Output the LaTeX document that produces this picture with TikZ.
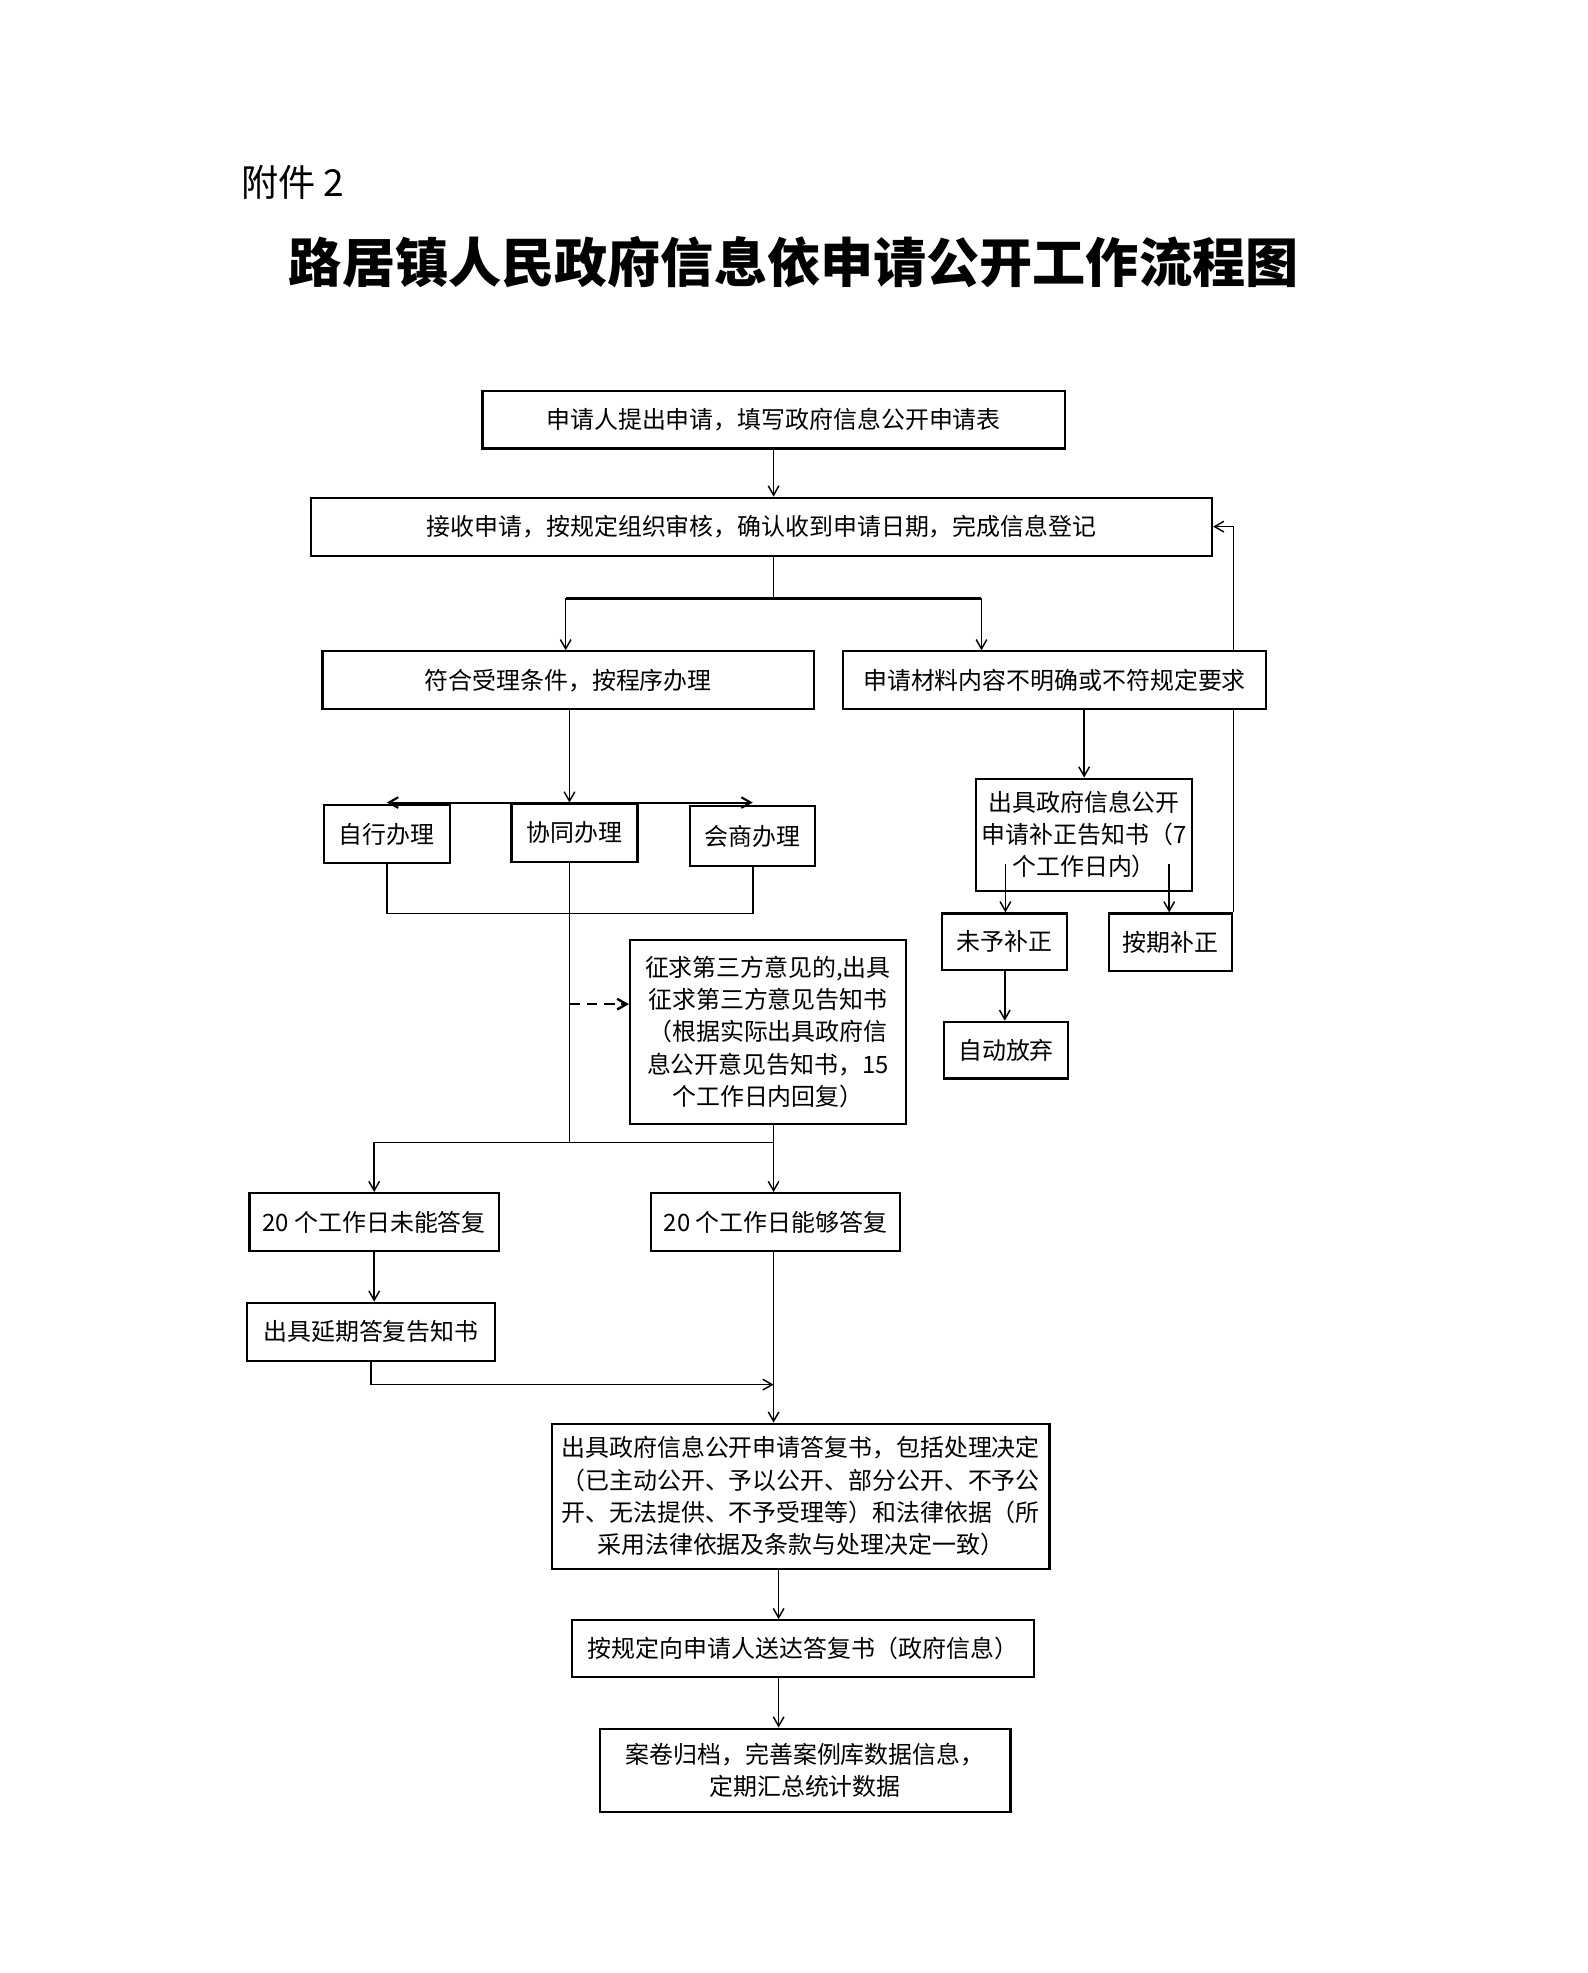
\documentclass[tikz,border=0pt]{standalone}
\usepackage{fontspec}
\setmainfont{Noto Sans CJK SC}
\usetikzlibrary{backgrounds}
\newcommand{\boxfont}{\fontsize{9pt}{12.1pt}\selectfont}
\tikzset{
  box/.style={draw, line width=0.8pt, fill=white, inner sep=0pt, align=center, font=\boxfont},
  sz/.style 2 args={minimum width={#1/60*1cm}, minimum height={#2/60*1cm}},
  line/.style={line width=0.55pt},
  arr/.style={line width=0.55pt, -{Straight Barb[length=3.5pt,width=4pt]}},
  dasharr/.style={line width=0.9pt, dash pattern=on 4pt off 2.5pt, -{Straight Barb[length=3.5pt,width=4pt]}}
}
\usetikzlibrary{arrows.meta}
\begin{document}
\begin{tikzpicture}[x=1cm/60, y=-1cm/60]
\useasboundingbox (0,0) rectangle (1260,1566);
% heading
\node[anchor=west, font=\fontsize{14pt}{16pt}\selectfont, inner sep=0pt] (fujian) at (191,145) {附件 2};
\node[font=\fontsize{20pt}{24pt}\selectfont\bfseries, inner sep=0pt] (title) at (630,208) {路居镇人民政府信息依申请公开工作流程图};
% main column
\node[box, sz={462}{46}] (shenqing) at (614,333) {申请人提出申请，填写政府信息公开申请表};
\node[box, sz={715}{46}] (jieshou) at (604.5,418) {接收申请，按规定组织审核，确认收到申请日期，完成信息登记};
\node[box, sz={390}{46}] (fuhe) at (451,540) {符合受理条件，按程序办理};
\node[box, sz={336}{46}] (cailiao) at (837,540) {申请材料内容不明确或不符规定要求};
\node[box, sz={100}{46}] (zixing) at (307,662) {自行办理};
\node[box, sz={100}{46}] (xietong) at (456,661) {协同办理};
\node[box, sz={99}{47}] (huishang) at (597.5,663.5) {会商办理};
\node[box, sz={219}{146}] (zhengqiu) at (609.5,819) {征求第三方意见的,出具\\征求第三方意见告知书\\（根据实际出具政府信\\息公开意见告知书，15\\个工作日内回复）};
\node[box, sz={198}{46}] (weineng) at (297,970) {20 个工作日未能答复};
\node[box, sz={197}{46}] (nenggou) at (615.5,970) {20 个工作日能够答复};
\node[box, sz={197}{46}] (yanqi) at (294.5,1057) {出具延期答复告知书};
\node[box, sz={395}{115}] (dafu) at (635.5,1187.5) {出具政府信息公开申请答复书，包括处理决定\\（已主动公开、予以公开、部分公开、不予公\\开、无法提供、不予受理等）和法律依据（所\\采用法律依据及条款与处理决定一致）};
\node[box, sz={367}{45}] (songda) at (637.5,1308.5) {按规定向申请人送达答复书（政府信息）};
\node[box, sz={326}{66}] (anjuan) at (639,1405) {案卷归档，完善案例库数据信息，\\定期汇总统计数据};
% right column
\node[box, sz={171}{89}] (buzheng) at (860.5,662.5) {出具政府信息公开\\申请补正告知书（7\\个工作日内）};
\node[box, sz={99}{45}] (weiyu) at (797.5,747.5) {未予补正};
\node[box, sz={98}{46}] (anqi) at (929,748) {按期补正};
\node[box, sz={99}{45}] (zidong) at (798.5,833.5) {自动放弃};
% junctions
\coordinate (f1) at (614,475);
\coordinate (c3) at (449,475);
\coordinate (c4) at (779,475);
\coordinate (f2) at (452,637);
\coordinate (f3) at (452,725);
\coordinate (d1) at (452,797);
\coordinate (f4) at (452,907);
\coordinate (f5) at (614,907);
\coordinate (f6) at (614,1099);
\coordinate (m) at (618,1266);
\coordinate (b1) at (798,686);
\coordinate (b2) at (928,686);
% connectors
\draw[arr] (shenqing.south) -- (shenqing.south |- jieshou.north);
\draw[line] (jieshou.south -| f1) -- (f1);
\draw[line, line width=0.8pt] (c3) -- (c4);
\draw[arr] (c3) -- (c3 |- fuhe.north);
\draw[arr] (c4) -- (c4 |- cailiao.north);
\draw[arr] (fuhe.south -| f2) -- (f2);
\draw[arr, line width=0.8pt] (f2) -- (f2 -| zixing.north);
\draw[arr, line width=0.8pt] (f2) -- (f2 -| huishang.north);
\draw[line] (zixing.south) |- (f3) -| (huishang.south);
\draw[line] (xietong.south -| f2) -- (f4);
\draw[dasharr] (d1) -- (d1 -| zhengqiu.west);
\draw[arr] (f4) -| (weineng.north);
\draw[line] (f4) -- (f5);
\draw[line] (zhengqiu.south -| f5) -- (f5);
\draw[arr] (f5) -- (f5 |- nenggou.north);
\draw[arr] (weineng.south) -- (weineng.south |- yanqi.north);
\draw[arr] (yanqi.south) |- (f6);
\draw[arr] (nenggou.south -| f6) -- (dafu.north -| f6);
\draw[arr] (dafu.south -| m) -- (songda.north -| m);
\draw[arr] (songda.south -| m) -- (anjuan.north -| m);
\draw[arr] (cailiao.south -| buzheng.north) -- (buzheng.north);
\draw[arr] (b1) -- (b1 |- weiyu.north);
\draw[arr] (b2) -- (b2 |- anqi.north);
\draw[arr] (weiyu.south) -- (weiyu.south |- zidong.north);
\begin{scope}[on background layer]
\draw[arr] (anqi.north east) |- (jieshou.east); % back to jieshou
\end{scope}
\end{tikzpicture}
\end{document}
